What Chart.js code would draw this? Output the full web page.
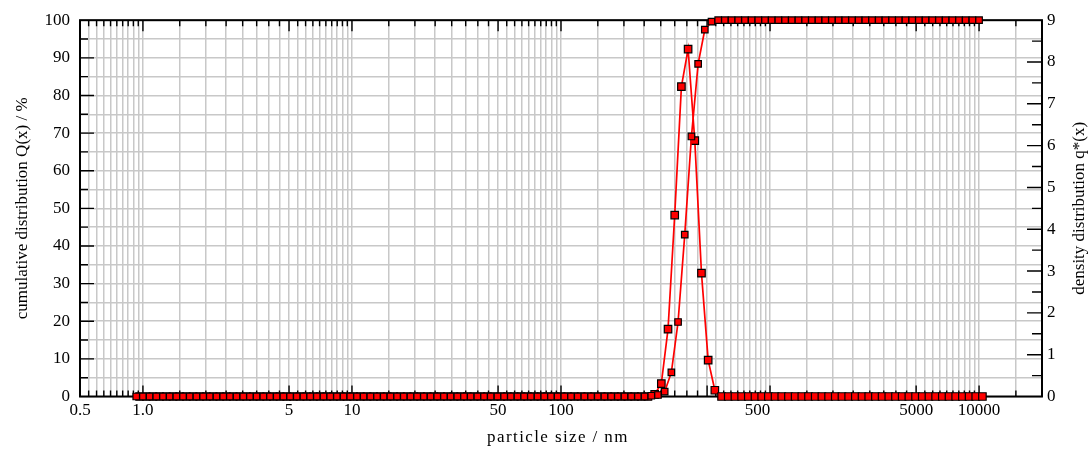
<!DOCTYPE html>
<html>
<head>
<meta charset="utf-8">
<script src="https://cdn.jsdelivr.net/npm/chart.js@4.4.0/dist/chart.umd.min.js"></script>
<style>
  html, body { margin: 0; padding: 0; background: #fff; }
</style>
</head>
<body>
<canvas id="psd" width="1090" height="450"></canvas>
<script>
// size classes are log spaced, 0.032 decade apart
const firstLog = -0.032;
const logStep = 0.032;

// cumulative distribution Q(x) in %, one value per class
const cumulative = [
  0, 0, 0, 0, 0, 0, 0, 0, 0, 0,
  0, 0, 0, 0, 0, 0, 0, 0, 0, 0,
  0, 0, 0, 0, 0, 0, 0, 0, 0, 0,
  0, 0, 0, 0, 0, 0, 0, 0, 0, 0,
  0, 0, 0, 0, 0, 0, 0, 0, 0, 0,
  0, 0, 0, 0, 0, 0, 0, 0, 0, 0,
  0, 0, 0, 0, 0, 0, 0, 0, 0, 0,
  0, 0, 0, 0, 0, 0, 0,
  0.2, 0.4, 1.3, 6.4, 19.8, 43.0, 69.1, 88.4, 97.5, 99.6,
  100, 100, 100, 100, 100, 100, 100, 100, 100, 100,
  100, 100, 100, 100, 100, 100, 100, 100, 100, 100,
  100, 100, 100, 100, 100, 100, 100, 100, 100, 100,
  100, 100, 100, 100, 100, 100, 100, 100, 100, 100
];

// density distribution q*(x), plotted at class centres
const density = [
  0, 0, 0, 0, 0, 0, 0, 0, 0, 0,
  0, 0, 0, 0, 0, 0, 0, 0, 0, 0,
  0, 0, 0, 0, 0, 0, 0, 0, 0, 0,
  0, 0, 0, 0, 0, 0, 0, 0, 0, 0,
  0, 0, 0, 0, 0, 0, 0, 0, 0, 0,
  0, 0, 0, 0, 0, 0, 0, 0, 0, 0,
  0, 0, 0, 0, 0, 0, 0, 0, 0, 0,
  0, 0, 0, 0, 0, 0, 0,
  0.05, 0.31, 1.61, 4.34, 7.41, 8.31, 6.12, 2.95, 0.87, 0.15,
  0, 0, 0, 0, 0, 0, 0, 0, 0, 0,
  0, 0, 0, 0, 0, 0, 0, 0, 0, 0,
  0, 0, 0, 0, 0, 0, 0, 0, 0, 0,
  0, 0, 0, 0, 0, 0, 0, 0, 0, 0
];

// x axis labels (the "500" sits where the original software put it)
const xLabelValues = [0.5, 1, 5, 10, 50, 100, 870, 5000, 10000];
const xLabelTexts = ['0.5', '1.0', '5', '10', '50', '100', '500', '5000', '10000'];
const xMajorTicks = [1, 5, 10, 50, 100, 500, 1000, 5000, 10000];
// [from, to, step] of the vertical grid lines
const xGridRanges = [[0.5, 1, 0.05], [1, 10, 0.5], [10, 100, 5], [100, 1000, 50], [1000, 10000, 500], [10000, 20000, 5000]];

const leftTicks = [0, 10, 20, 30, 40, 50, 60, 70, 80, 90, 100];
const rightTicks = [0, 1, 2, 3, 4, 5, 6, 7, 8, 9];

const serif = "'Liberation Serif', 'DejaVu Serif', serif";

let xGrid = [];
xGridRanges.forEach(r => {
  for (let v = r[0]; v <= r[1] + r[2] / 2; v += r[2]) {
    const val = Math.round(v * 1000) / 1000;
    if (!xGrid.includes(val)) xGrid.push(val);
  }
});

const sizes = cumulative.map((_, k) => Math.pow(10, firstLog + logStep * k));
const centres = density.map((_, k) => Math.pow(10, firstLog + logStep * (k + 0.5)));

// frame, inward tick marks and the two titles drawn by hand
const frameTicks = {
  id: 'frameTicks',
  beforeDatasetsDraw(chart) {
    const ctx = chart.ctx, a = chart.chartArea, s = chart.scales;
    ctx.save();
    ctx.strokeStyle = '#000';
    ctx.lineWidth = 1.4;
    ctx.beginPath();
    xGrid.forEach(v => {
      if (v <= 0.5 || v >= 20000) return;
      const px = s.x.getPixelForValue(v);
      const len = xMajorTicks.some(m => Math.abs(m - v) < 1e-6) ? 11 : 6;
      ctx.moveTo(px, a.top); ctx.lineTo(px, a.top + len);
      ctx.moveTo(px, a.bottom); ctx.lineTo(px, a.bottom - len);
    });
    for (let v = 5; v < 100; v += 5) {
      const py = s.y.getPixelForValue(v);
      ctx.moveTo(a.left, py); ctx.lineTo(a.left + (v % 10 === 0 ? 14 : 8), py);
    }
    for (let v = 0.5; v < 9; v += 0.5) {
      const py = s.y1.getPixelForValue(v);
      ctx.moveTo(a.right, py); ctx.lineTo(a.right - (v % 1 === 0 ? 15 : 10), py);
    }
    ctx.stroke();
    ctx.lineWidth = 2;
    ctx.strokeRect(a.left, a.top, a.right - a.left, a.bottom - a.top);
    ctx.restore();
  },
  afterDraw(chart) {
    const ctx = chart.ctx, a = chart.chartArea;
    ctx.save();
    ctx.fillStyle = '#000';
    ctx.font = '17px ' + serif;
    ctx.textAlign = 'center';
    ctx.textBaseline = 'middle';
    ctx.letterSpacing = '1.4px';
    ctx.fillText('particle size / nm', 558, 438);
    ctx.letterSpacing = '0px';
    ctx.translate(1080, (a.top + a.bottom) / 2);
    ctx.rotate(-Math.PI / 2);
    ctx.fillText('density distribution q*(x)', 0, 0);
    ctx.restore();
  }
};

const pointStyle = {
  pointStyle: 'rect',
  pointBackgroundColor: '#ff0000',
  pointBorderColor: '#000000',
  pointBorderWidth: 1.2,
  borderColor: '#ff0000',
  borderWidth: 1.7,
  tension: 0,
  clip: false
};

new Chart(document.getElementById('psd'), {
  type: 'line',
  data: {
    datasets: [
      Object.assign({
        label: 'cumulative distribution Q(x)',
        data: sizes.map((x, i) => ({ x: x, y: cumulative[i] })),
        yAxisID: 'y',
        pointRadius: 4.6
      }, pointStyle),
      Object.assign({
        label: 'density distribution q*(x)',
        data: centres.map((x, i) => ({ x: x, y: density[i] })),
        yAxisID: 'y1',
        pointRadius: 5.3
      }, pointStyle)
    ]
  },
  options: {
    responsive: false,
    animation: false,
    devicePixelRatio: 1,
    layout: { padding: { top: 19, bottom: 0, left: 0, right: 0 } },
    plugins: { legend: { display: false }, tooltip: { enabled: false } },
    scales: {
      x: {
        type: 'logarithmic',
        position: 'bottom',
        min: 0.5,
        max: 20000,
        afterBuildTicks: sc => { sc.ticks = xGrid.map(v => ({ value: v })); },
        ticks: { display: false, autoSkip: false },
        grid: { color: '#c8c8c8', lineWidth: 1.5, drawTicks: false },
        border: { display: false },
        afterFit: sc => { sc.height = 0; }
      },
      xl: {
        type: 'logarithmic',
        position: 'bottom',
        min: 0.5,
        max: 20000,
        afterBuildTicks: sc => { sc.ticks = xLabelValues.map(v => ({ value: v })); },
        ticks: {
          autoSkip: false, maxRotation: 0, padding: 4, color: '#000',
          font: { family: serif, size: 17 },
          callback: (v, i) => xLabelTexts[i]
        },
        grid: { display: false, drawTicks: false },
        border: { display: false },
        afterFit: sc => { sc.height = 53.5; }
      },
      y: {
        position: 'left',
        min: 0,
        max: 100,
        afterBuildTicks: sc => {
          const t = [];
          for (let v = 0; v <= 100; v += 5) t.push({ value: v });
          sc.ticks = t;
        },
        ticks: {
          autoSkip: false, padding: 10, color: '#000',
          font: { family: serif, size: 17 },
          callback: v => leftTicks.includes(v) ? String(v) : ''
        },
        grid: { color: '#c8c8c8', lineWidth: 1.5, drawTicks: false },
        border: { display: false },
        title: {
          display: true, text: 'cumulative distribution Q(x) / %', color: '#000',
          font: { family: serif, size: 17 }, padding: { top: 12, bottom: 0 }
        },
        afterFit: sc => { sc.width = 80; }
      },
      y1: {
        position: 'right',
        min: 0,
        max: 9,
        afterBuildTicks: sc => { sc.ticks = rightTicks.map(v => ({ value: v })); },
        ticks: {
          autoSkip: false, padding: 5, color: '#000',
          font: { family: serif, size: 17 },
          callback: v => String(v)
        },
        grid: { display: false, drawTicks: false },
        border: { display: false },
        afterFit: sc => { sc.width = 48; }
      }
    }
  },
  plugins: [frameTicks]
});
</script>
</body>
</html>
